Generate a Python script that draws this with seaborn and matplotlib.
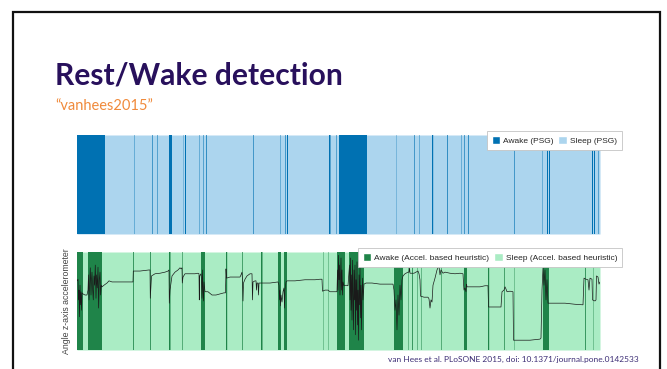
import matplotlib
matplotlib.use("Agg")
import matplotlib.pyplot as plt
from matplotlib.patches import Patch, Rectangle
import numpy as np
import pandas as pd
import seaborn as sns

# ---- recording length (minutes) ----
night_minutes = 523

# ---- PSG-scored wake bouts: start (min) and duration (min) ----
psg_wake_start = [0, 57, 75, 80, 92, 106, 108, 122, 126, 129, 176, 203, 208, 210,
                  252, 259, 262, 319, 337, 342, 355, 370, 384, 387, 391, 437, 465,
                  470, 472, 515, 517, 521]
psg_wake_dur = [28, 0.4, 0.6, 0.5, 3, 0.3, 1, 0.4, 0.5, 0.7, 0.6, 0.4, 0.6, 1,
                1.5, 0.5, 28, 0.3, 0.6, 0.4, 1.2, 0.7, 0.4, 0.6, 0.7, 0.6, 0.4,
                1, 1, 1, 1, 0.5]

# ---- accelerometer heuristic wake bouts ----
acc_wake_start = [0, 11, 56, 73, 92, 105, 124, 149, 165, 184, 201, 207, 246, 251,
                  260, 272, 317, 331, 335, 340, 344, 364, 387, 411, 427, 437, 466,
                  508, 516]
acc_wake_dur = [6, 14, 0.8, 0.8, 1.5, 0.6, 4, 1.2, 0.7, 1.5, 3, 3, 0.4, 0.4,
                8, 15, 9, 0.5, 0.8, 0.5, 0.5, 0.6, 3, 1.2, 0.7, 0.4, 6, 0.8, 0.4]

# ---- z-axis angle trace (minutes, degrees) ----
angle_t = [0, 1, 1.5, 2, 2.5, 3, 3.5, 4, 4.5, 5, 6, 8, 10, 11, 11.5, 12, 12.7,
           13.3, 14, 14.5, 15, 15.7, 16.3, 17, 17.6, 18.3, 19, 19.6, 20.3, 21,
           21.6, 22.3, 23, 23.6, 24.3, 25, 27, 30, 32, 35, 43, 51, 56, 56.3, 63,
           72, 73, 73.3, 74, 74.5, 78, 83, 88, 91, 92, 92.3, 93, 94, 95, 98, 101,
           103, 104, 105, 105.3, 106, 108, 113, 118, 121, 122, 122.3, 122.7, 124,
           124.5, 125, 125.5, 126, 126.5, 127, 128, 131, 135, 139, 143, 147,
           148.5, 149, 149.5, 153, 158, 163, 164, 165, 165.5, 166, 166.5, 168,
           170, 173, 175, 175.5, 176, 178, 179, 179.5, 180, 181, 181.5, 182, 185,
           193, 201, 202, 202.5, 203, 203.5, 204, 205, 206, 207, 207.5, 208, 209,
           210, 218, 228, 238, 243, 245, 245.5, 248, 251, 253, 258, 260, 260.5,
           261, 261.5, 262, 262.5, 263, 263.5, 264, 264.5, 265, 265.5, 266, 267,
           269, 271, 272.5, 273, 273.5, 274, 274.5, 275, 275.5, 276, 276.5, 277,
           277.5, 278, 278.5, 279, 279.5, 280, 280.5, 281, 281.5, 282, 282.5,
           283, 283.5, 284, 284.5, 285, 285.5, 286, 287, 289, 295, 303, 311, 316,
           317, 318, 319, 320, 321, 322, 323, 324, 325, 326, 328, 331, 332, 332.5,
           333, 337, 339, 341, 342, 343, 343.5, 347, 351, 352, 353, 354, 355, 356,
           358, 360, 361, 362, 363, 364, 366, 368, 373, 378, 383, 386, 386.5, 387,
           388, 389, 389.5, 390, 393, 398, 403, 408, 411, 411.5, 415, 420, 424,
           425, 427, 428, 429, 430, 433, 436, 436.5, 443, 453, 463, 464, 465, 466,
           467, 468, 469, 470, 471, 478, 488, 498, 506, 507, 509, 511, 512, 513,
           515, 515.5, 518, 519, 519.5, 521, 522, 523]
angle_deg = [37, 40, 2, 20, -29, 29, -7, 17, -17, 15, 13, 11, 11, 20, 48, 2, 35,
             61, 11, 39, 53, 20, 2, 46, 29, 66, 5, 48, 24, 62, -13, 39, 53, 11,
             29, 26, 29, 33, 37, 35, 35, 35, 35, 55, 55, 57, 57, 5, 29, 46, 50,
             51, 53, 55, 57, -4, 20, 33, 46, 53, 57, 61, 59, 61, 33, 44, 50, 50,
             50, 51, 50, 2, 46, 50, 39, 5, 57, 20, 0, 35, 17, 17, 11, 11, 13, 15,
             15, 59, 42, 44, 44, 44, 48, 53, 39, 0, 33, 40, 46, 50, 50, 2, 35, 37,
             37, 20, 33, 33, 11, 33, 33, 33, 35, 29, 2, 20, -9, 11, -2, 17, 24,
             -13, 20, 35, 37, 37, 39, 39, 40, 40, 18, 20, 20, 17, 17, 17, 57, 20,
             84, 39, 66, 11, 48, 79, 20, 57, 11, 35, 28, 29, 28, 66, 2, 79, -17,
             48, -35, 75, 11, -53, 57, 2, 66, -62, 39, -17, 72, -44, 20, -72, 48,
             -7, 61, -31, 29, -53, 11, 42, 2, 31, 33, 33, 31, 31, 31, 20, -17, 2,
             -53, 11, -26, 29, 2, 39, 46, 50, 53, 53, 61, 51, 51, 53, 55, 50, 39,
             9, 7, 7, 4, -13, 2, -2, 29, 42, 57, 61, 64, 48, 57, 51, 53, 51, 50,
             51, 50, 33, 20, 24, 17, 31, 26, 26, 26, 26, 28, 28, -11, -11, -11,
             -11, 17, 20, 26, 22, 17, 18, 17, -72, -72, -72, -70, -68, 20, 61, 29,
             57, 2, 39, -4, -4, -4, -6, -7, 42, 40, 39, 20, 42, 40, 2, 0, 2, 46,
             44, 31, 35]

psg_labels = ["Awake (PSG)", "Sleep (PSG)"]
acc_labels = ["Awake (Accel. based heuristic)", "Sleep (Accel. based heuristic)"]
title_text = "Rest/Wake detection"
subtitle_text = "\u201cvanhees2015\u201d"
citation_text = "van Hees et al. PLoSONE 2015, doi: 10.1371/journal.pone.0142533"
ylabel_text = "Angle z-axis accelerometer"

# ---- colours ----
psg_wake_c, psg_sleep_c = "#0071b2", "#acd5ee"
acc_wake_c, acc_sleep_c = "#1f8449", "#aaecc4"

sns.set_theme(style="white")
plt.rcParams["font.family"] = ["Lato", "DejaVu Sans"]

W, H = 667, 369
fig = plt.figure(figsize=(W / 100, H / 100), dpi=100)


def frac_box(x0, y0, x1, y1):
    return [x0 / W, 1 - y1 / H, (x1 - x0) / W, (y1 - y0) / H]


ax_psg = fig.add_axes(frac_box(77, 135, 600, 234))
ax_acc = fig.add_axes(frac_box(77, 252, 600, 350))


def draw_states(ax, starts, durs, wake_c, sleep_c, y0, h):
    ax.broken_barh([(0, night_minutes)], (y0, h), facecolors=sleep_c,
                   linewidth=0, snap=False)
    ax.broken_barh(list(zip(starts, durs)), (y0, h), facecolors=wake_c,
                   linewidth=0, snap=False)


# top: PSG hypnogram as vertical bands
draw_states(ax_psg, psg_wake_start, psg_wake_dur, psg_wake_c, psg_sleep_c, 0, 1)
ax_psg.set_xlim(0, night_minutes)
ax_psg.set_ylim(0, 1)
ax_psg.set_axis_off()

# bottom: heuristic bands plus the angle trace
draw_states(ax_acc, acc_wake_start, acc_wake_dur, acc_wake_c, acc_sleep_c, -90, 180)
trace = pd.DataFrame({"minute": angle_t, "angle": angle_deg})
sns.lineplot(data=trace, x="minute", y="angle", ax=ax_acc, color="#1a1a1a",
             linewidth=0.5, estimator=None, sort=False)
ax_acc.set_xlim(0, night_minutes)
ax_acc.set_ylim(-90, 90)
ax_acc.set_xticks([])
ax_acc.set_yticks([])
ax_acc.set_xlabel("")
ax_acc.set_ylabel(ylabel_text, family=["Liberation Sans", "DejaVu Sans"],
                  fontsize=6.3, color="#444444", labelpad=4)
sns.despine(ax=ax_acc, left=True, bottom=True)

legend_kw = dict(loc="upper right", ncol=2, frameon=True, fancybox=False,
                 edgecolor="#c4c4c4", framealpha=1,
                 prop={"family": ["Liberation Sans", "DejaVu Sans"], "size": 6},
                 borderpad=0.6, handlelength=1.05, handleheight=1.05,
                 handletextpad=0.35, columnspacing=0.55, borderaxespad=0)

leg1 = fig.legend(handles=[Patch(facecolor=psg_wake_c), Patch(facecolor=psg_sleep_c)],
                  labels=psg_labels, bbox_to_anchor=(622 / W, 1 - 131 / H), **legend_kw)
leg1.get_frame().set_linewidth(0.6)
leg2 = fig.legend(handles=[Patch(facecolor=acc_wake_c), Patch(facecolor=acc_sleep_c)],
                  labels=acc_labels, bbox_to_anchor=(622 / W, 1 - 248 / H), **legend_kw)
leg2.get_frame().set_linewidth(0.6)

# slide text
fig.text(55 / W, 1 - 84 / H, title_text, fontsize=21.6, fontweight="bold",
         color="#28105c", va="baseline")
fig.text(55 / W, 1 - 110 / H, subtitle_text, fontsize=10.5, color="#f08a3b",
         va="baseline")
fig.text(639 / W, 1 - 362 / H, citation_text, fontsize=6.0, color="#3c2d75",
         ha="right", va="baseline")

# slide frame
fig.add_artist(Rectangle((12.5 / W, -0.1), (660 - 12.5) / W, 0.1 + 1 - 12 / H,
                         transform=fig.transFigure, fill=False,
                         linewidth=1.6, edgecolor="#111111"))

fig.savefig("out.png", dpi=100)
